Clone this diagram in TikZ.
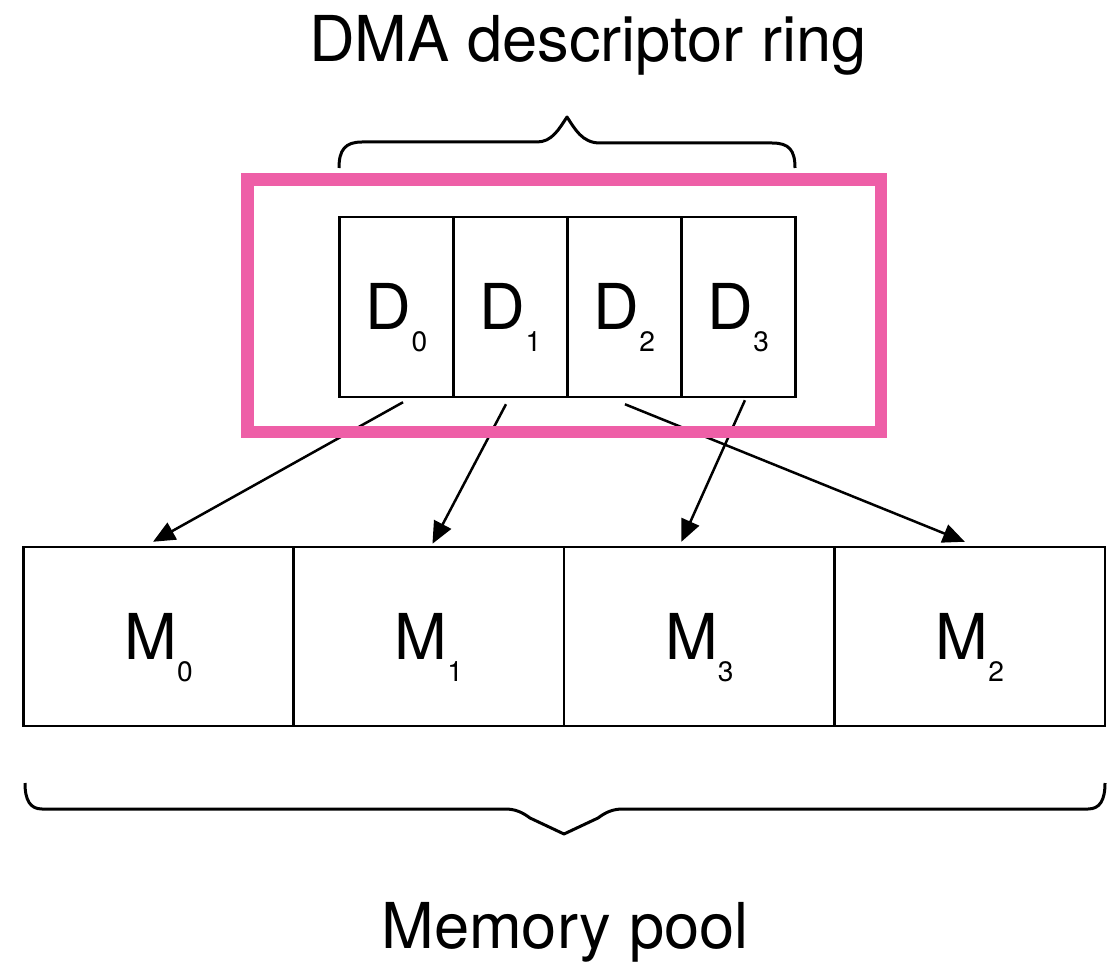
\documentclass[tikz,border=0pt]{standalone}
\usepackage{fontspec}
\setmainfont{TeX Gyre Heros}
\usetikzlibrary{positioning,arrows.meta}
\definecolor{ringpink}{HTML}{EE5FA7}
\newcommand{\lowsub}[1]{\raisebox{-0.44cm}{\fontsize{16}{16}\selectfont #1}}

\begin{document}
\begin{tikzpicture}[x=0.02cm, y=-0.02cm,
  cell/.style={draw, line width=0.05cm, inner sep=0pt, text height=0.92cm, text depth=0pt, font=\fontsize{36}{36}\selectfont},
  desc/.style={cell, minimum width=2.28cm, minimum height=3.6cm},
  buf/.style={cell, minimum width=5.41cm, minimum height=3.58cm},
  ptr/.style={-{Triangle[length=0.44cm,width=0.38cm]}, line width=0.05cm},
  brace/.style={line width=0.06cm, line join=round}]
\useasboundingbox (0,0) rectangle (1108,962);

\node (title) [anchor=base, font=\fontsize{36}{36}\selectfont] at (588,62) {DMA descriptor ring};

% descriptor ring
\node (d0) [desc] at (396.5,307) {D\lowsub{0}};
\node (d1) [desc, right of=d0, node distance=2.28cm] {D\lowsub{1}};
\node (d2) [desc, right of=d1, node distance=2.28cm] {D\lowsub{2}};
\node (d3) [desc, right of=d2, node distance=2.28cm] {D\lowsub{3}};

% memory pool
\node (m0) [buf] at (158.5,636.5) {M\lowsub{0}};
\node (m1) [buf, right of=m0, node distance=5.41cm] {M\lowsub{1}};
\node (m3) [buf, right of=m1, node distance=5.41cm] {M\lowsub{3}};
\node (m2) [buf, right of=m3, node distance=5.41cm] {M\lowsub{2}};

\draw[ptr] ([xshift=0.13cm,yshift=-0.08cm]d0.south) -- ([xshift=-0.11cm,yshift=0.08cm]m0.north);
\draw[ptr] ([xshift=-0.09cm,yshift=-0.12cm]d1.south) -- ([xshift=0.07cm,yshift=0.04cm]m1.north);
\draw[ptr] ([xshift=0.01cm,yshift=-0.12cm]d2.south) -- ([xshift=-0.1cm,yshift=0.08cm]m2.north);
\draw[ptr] ([xshift=0.13cm,yshift=-0.04cm]d3.south) -- ([xshift=-0.36cm,yshift=0.08cm]m3.north);

\node (ring) [draw=ringpink, line width=0.25cm, minimum width=12.67cm, minimum height=5.05cm] at (564.25,305.75) {};

% braces
\draw[brace] (339,168) .. controls (339,150) and (345,142) .. (362,142) -- (537,142)
  .. controls (552,142) and (559,129) .. (567,117) .. controls (575,129) and (582,143) .. (600,143)
  -- (772,143) .. controls (789,143) and (795,150) .. (795,168);
\draw[brace] (25,783) .. controls (25,800) and (30,809) .. (42,809) -- (505,809)
  .. controls (515,809) and (522,812) .. (530,818) -- (564,834) -- (598,818)
  .. controls (606,812) and (613,809) .. (623,809) -- (1088,809) .. controls (1100,809) and (1105,800) .. (1105,783);

\node (pool) [anchor=base, font=\fontsize{36}{36}\selectfont] at (565,948) {Memory pool};
\end{tikzpicture}
\end{document}
